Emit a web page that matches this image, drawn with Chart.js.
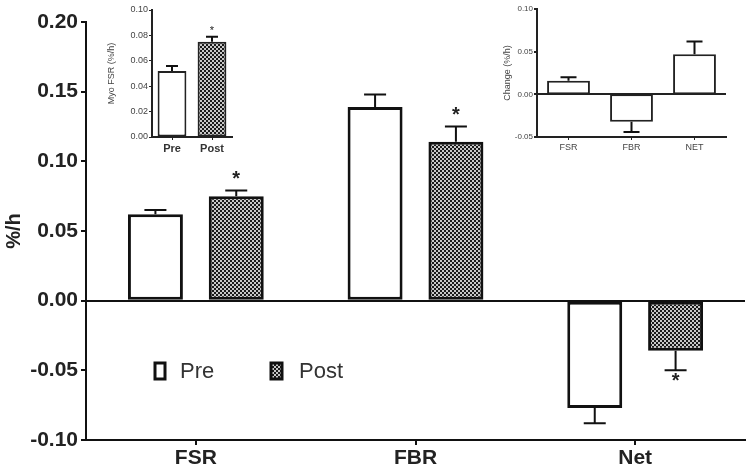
<!DOCTYPE html>
<html>
<head>
<meta charset="utf-8">
<script src="https://cdn.jsdelivr.net/npm/chart.js@4.4.1/dist/chart.umd.min.js"></script>
<style>
  body { margin: 0; background: #fff; }
  #wrap { position: relative; width: 755px; height: 473px; }
  canvas { position: absolute; }
</style>
</head>
<body>
<div id="wrap">
  <canvas id="mainChart" style="left:0;top:0;width:755px;height:473px"></canvas>
  <canvas id="insetFsr" style="left:100px;top:0;width:140px;height:160px"></canvas>
  <canvas id="insetChange" style="left:480px;top:0;width:260px;height:160px"></canvas>
</div>
<script>
// main chart data
var categories = ['FSR', 'FBR', 'Net'];
var preValues = [0.062, 0.139, -0.077];
var preErrors = [0.003, 0.009, 0.011];
var postValues = [0.075, 0.114, -0.036];
var postErrors = [0.004, 0.011, 0.014];
var postStars = [true, true, true];
var yTicks = [-0.10, -0.05, 0.00, 0.05, 0.10, 0.15, 0.20];

// inset: myofibrillar FSR
var insetCategories = ['Pre', 'Post'];
var insetValues = [0.052, 0.075];
var insetErrors = [0.004, 0.004];
var insetStars = [false, true];

// inset: change
var changeCategories = ['FSR', 'FBR', 'NET'];
var changeValues = [0.016, -0.032, 0.047];
var changeErrors = [0.004, 0.012, 0.015];

// checkered fill for the Post bars
function makePattern(cell) {
    var c = document.createElement('canvas');
    c.width = cell * 2;
    c.height = cell * 2;
    var g = c.getContext('2d');
    g.fillStyle = '#1a1a1a';
    g.fillRect(0, 0, cell * 2, cell * 2);
    g.fillStyle = '#c8c8c8';
    g.fillRect(0, 0, cell, cell);
    g.fillRect(cell, cell, cell, cell);
    return g.createPattern(c, 'repeat');
}
var checker = makePattern(2);

function fmt(v) {
    if (Math.abs(v) < 1e-9) return '0.00';
    return v.toFixed(2);
}

// error bars + significance stars
var errorBarPlugin = {
    id: 'errorBars',
    afterDatasetsDraw: function(chart) {
        var ctx = chart.ctx;
        var yScale = chart.scales.y;
        chart.data.datasets.forEach(function(ds, i) {
            if (!ds.errors) return;
            var meta = chart.getDatasetMeta(i);
            meta.data.forEach(function(bar, j) {
                var v = ds.data[j];
                var sign = v < 0 ? -1 : 1;
                var y0 = yScale.getPixelForValue(v);
                var y1 = yScale.getPixelForValue(v + sign * ds.errors[j]);
                ctx.save();
                ctx.strokeStyle = '#111';
                ctx.lineWidth = ds.errWidth || 2;
                ctx.beginPath();
                ctx.moveTo(bar.x, y0);
                ctx.lineTo(bar.x, y1);
                ctx.moveTo(bar.x - ds.capHalf, y1);
                ctx.lineTo(bar.x + ds.capHalf, y1);
                ctx.stroke();
                if (ds.stars && ds.stars[j]) {
                    ctx.fillStyle = '#222';
                    ctx.font = ds.starFont || 'bold 20px Arial';
                    ctx.textAlign = 'center';
                    ctx.textBaseline = 'middle';
                    ctx.fillText('*', bar.x, y1 + sign * -(ds.starGap || 12));
                }
                ctx.restore();
            });
        });
    }
};

// legend drawn inside the plot area
var innerLegendPlugin = {
    id: 'innerLegend',
    afterDraw: function(chart) {
        var ctx = chart.ctx;
        ctx.save();
        ctx.lineWidth = 3;
        ctx.strokeStyle = '#111';
        ctx.fillStyle = '#fff';
        ctx.fillRect(155, 363, 10, 16);
        ctx.strokeRect(155, 363, 10, 16);
        ctx.fillStyle = checker;
        ctx.fillRect(271, 363, 11, 16);
        ctx.strokeRect(271, 363, 11, 16);
        ctx.fillStyle = '#333';
        ctx.font = '22px Arial';
        ctx.textBaseline = 'middle';
        ctx.fillText('Pre', 180, 372);
        ctx.fillText('Post', 299, 372);
        ctx.restore();
    }
};

function zeroLine(color) {
    return function(c) {
        return Math.abs(c.tick.value) < 1e-9 ? color : 'rgba(0,0,0,0)';
    };
}

new Chart(document.getElementById('mainChart'), {
    type: 'bar',
    data: {
        labels: categories,
        datasets: [{
            label: 'Pre',
            data: preValues,
            errors: preErrors,
            capHalf: 11,
            backgroundColor: '#fff',
            borderColor: '#111',
            borderWidth: 3,
            borderSkipped: false
        }, {
            label: 'Post',
            data: postValues,
            errors: postErrors,
            stars: postStars,
            capHalf: 11,
            starGap: 11,
            backgroundColor: checker,
            borderColor: '#111',
            borderWidth: 3,
            borderSkipped: false
        }]
    },
    options: {
        responsive: false,
        animation: false,
        devicePixelRatio: 1,
        categoryPercentage: 0.736,
        barPercentage: 0.68,
        layout: { padding: { top: 22, right: 10, left: 2, bottom: 0 } },
        plugins: { legend: { display: false }, tooltip: { enabled: false } },
        scales: {
            x: {
                afterFit: function(s) { s.height = 33; },
                grid: { offset: false, drawOnChartArea: false, tickColor: '#111', tickLength: 5, lineWidth: 2 },
                border: { color: '#111', width: 2 },
                ticks: { color: '#222', font: { family: 'Arial', size: 21, weight: 'bold' }, padding: 1 }
            },
            y: {
                min: -0.10,
                max: 0.20,
                afterFit: function(s) { s.width = 84; },
                afterBuildTicks: function(s) { s.ticks = yTicks.map(function(v) { return { value: v }; }); },
                grid: { color: zeroLine('#111'), lineWidth: 2, tickColor: '#111', tickLength: 5 },
                border: { color: '#111', width: 2 },
                ticks: { color: '#222', font: { family: 'Arial', size: 21, weight: 'bold' }, padding: 3, callback: fmt },
                title: { display: true, text: '%/h', color: '#222', font: { family: 'Arial', size: 20, weight: 'bold' }, padding: { top: 0, bottom: 0 } }
            }
        }
    },
    plugins: [errorBarPlugin, innerLegendPlugin]
});

new Chart(document.getElementById('insetFsr'), {
    type: 'bar',
    data: {
        labels: insetCategories,
        datasets: [{
            data: insetValues,
            errors: insetErrors,
            stars: insetStars,
            capHalf: 6,
            starGap: 6,
            starFont: '11px Arial',
            backgroundColor: [ '#fff', checker ],
            borderColor: '#222',
            borderWidth: 2,
            borderSkipped: false
        }]
    },
    options: {
        responsive: false,
        animation: false,
        devicePixelRatio: 1,
        categoryPercentage: 0.9,
        barPercentage: 0.8,
        layout: { padding: { top: 10, right: 8, left: 6, bottom: 0 } },
        plugins: { legend: { display: false }, tooltip: { enabled: false } },
        scales: {
            x: {
                afterFit: function(s) { s.height = 23; },
                grid: { offset: false, drawOnChartArea: false, tickColor: '#222', tickLength: 3, lineWidth: 1 },
                border: { color: '#222', width: 2 },
                ticks: { color: '#333', font: { family: 'Arial', size: 11, weight: 'bold' }, padding: 2 }
            },
            y: {
                min: 0,
                max: 0.10,
                afterFit: function(s) { s.width = 46; },
                grid: { drawOnChartArea: false, tickColor: '#222', tickLength: 3 },
                border: { color: '#222', width: 2 },
                ticks: { stepSize: 0.02, color: '#444', font: { family: 'Arial', size: 9 }, padding: 1, callback: fmt },
                title: { display: true, text: 'Myo FSR (%/h)', color: '#444', font: { family: 'Arial', size: 9 }, padding: { top: 0, bottom: 2 } }
            }
        }
    },
    plugins: [errorBarPlugin]
});

new Chart(document.getElementById('insetChange'), {
    type: 'bar',
    data: {
        labels: changeCategories,
        datasets: [{
            data: changeValues,
            errors: changeErrors,
            capHalf: 8,
            backgroundColor: '#fff',
            borderColor: '#222',
            borderWidth: 2,
            borderSkipped: false
        }]
    },
    options: {
        responsive: false,
        animation: false,
        devicePixelRatio: 1,
        categoryPercentage: 1,
        barPercentage: 0.68,
        layout: { padding: { top: 9, right: 14, left: 22, bottom: 0 } },
        plugins: { legend: { display: false }, tooltip: { enabled: false } },
        scales: {
            x: {
                afterFit: function(s) { s.height = 23; },
                grid: { offset: false, drawOnChartArea: false, tickColor: '#222', tickLength: 3, lineWidth: 1 },
                border: { color: '#222', width: 2 },
                ticks: { color: '#444', font: { family: 'Arial', size: 9 }, padding: 2 }
            },
            y: {
                min: -0.05,
                max: 0.10,
                afterFit: function(s) { s.width = 35; },
                grid: { color: zeroLine('#222'), lineWidth: 2, tickColor: '#222', tickLength: 3 },
                border: { color: '#222', width: 2 },
                ticks: { stepSize: 0.05, color: '#444', font: { family: 'Arial', size: 8 }, padding: 1, callback: fmt },
                title: { display: true, text: 'Change (%/h)', color: '#444', font: { family: 'Arial', size: 9 }, padding: { top: 0, bottom: 2 } }
            }
        }
    },
    plugins: [errorBarPlugin]
});
</script>
</body>
</html>
